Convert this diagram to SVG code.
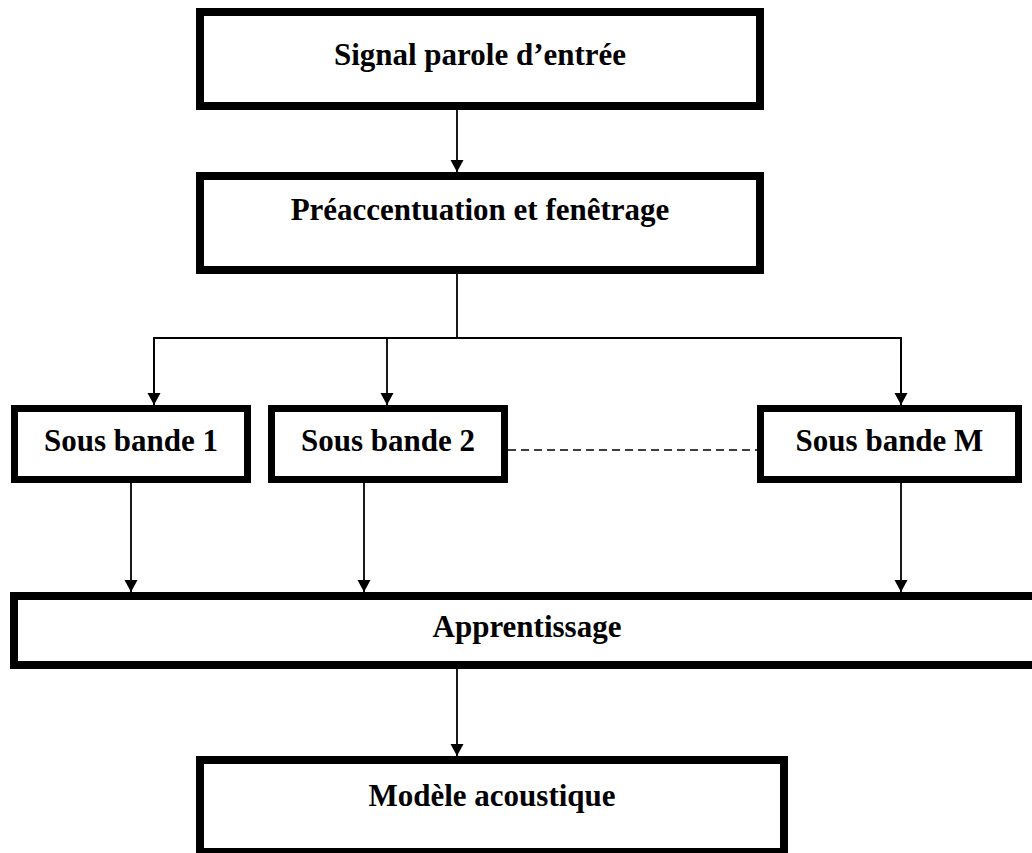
<svg xmlns="http://www.w3.org/2000/svg" width="1032" height="853" viewBox="0 0 1032 853">
  <style>
    .box { fill: #ffffff; stroke: #000000; stroke-width: 8; }
    .sub { fill: #ffffff; stroke: #000000; stroke-width: 7; }
    .lbl { font-family: "Liberation Serif", "Times New Roman", serif; font-weight: bold; font-size: 31px; fill: #000000; text-anchor: middle; }
    .wire { fill: none; stroke: #000000; stroke-width: 1.8; }
    .dash { fill: none; stroke: #000000; stroke-width: 1.5; stroke-dasharray: 8 5; }
  </style>
  <defs>
    <marker id="arrow" markerUnits="userSpaceOnUse" markerWidth="14" markerHeight="14" refX="12" refY="6.5" orient="auto">
      <path d="M0,0 L12,6.5 L0,13 Z" fill="#000000"/>
    </marker>
  </defs>
  <rect width="1032" height="853" fill="#ffffff"/>

  <g id="connectors">
    <line class="wire" x1="457" y1="110" x2="457" y2="172" marker-end="url(#arrow)"/>
    <polyline class="wire" points="457,274 457,338"/>
    <polyline class="wire" points="154,405 154,338 901,338 901,405" fill="none"/>
    <line class="wire" x1="154" y1="338" x2="154" y2="405" marker-end="url(#arrow)"/>
    <line class="wire" x1="387" y1="338" x2="387" y2="405" marker-end="url(#arrow)"/>
    <line class="wire" x1="901" y1="338" x2="901" y2="405" marker-end="url(#arrow)"/>
    <line class="dash" x1="508" y1="450" x2="757" y2="450"/>
    <line class="wire" x1="131" y1="483" x2="131" y2="592" marker-end="url(#arrow)"/>
    <line class="wire" x1="364" y1="483" x2="364" y2="592" marker-end="url(#arrow)"/>
    <line class="wire" x1="901" y1="483" x2="901" y2="592" marker-end="url(#arrow)"/>
    <line class="wire" x1="457" y1="669" x2="457" y2="756" marker-end="url(#arrow)"/>
  </g>

  <g id="signal">
    <rect class="box" x="200" y="12" width="560" height="94"/>
    <text class="lbl" x="480" y="65">Signal parole d’entrée</text>
  </g>
  <g id="preaccentuation">
    <rect class="box" x="200" y="176" width="560" height="94"/>
    <text class="lbl" x="480" y="220">Préaccentuation et fenêtrage</text>
  </g>
  <g id="sous-bande-1">
    <rect class="sub" x="14.5" y="408.5" width="233" height="71"/>
    <text class="lbl" x="131" y="451">Sous bande 1</text>
  </g>
  <g id="sous-bande-2">
    <rect class="sub" x="271.5" y="408.5" width="233" height="71"/>
    <text class="lbl" x="388" y="451">Sous bande 2</text>
  </g>
  <g id="sous-bande-m">
    <rect class="sub" x="760.5" y="408.5" width="258" height="71"/>
    <text class="lbl" x="889.5" y="451">Sous bande M</text>
  </g>
  <g id="apprentissage">
    <rect class="box" x="14" y="596" width="1030" height="69"/>
    <text class="lbl" x="527" y="637">Apprentissage</text>
  </g>
  <g id="modele">
    <rect class="box" x="200" y="760" width="584" height="92"/>
    <text class="lbl" x="492" y="806">Modèle acoustique</text>
  </g>
</svg>
